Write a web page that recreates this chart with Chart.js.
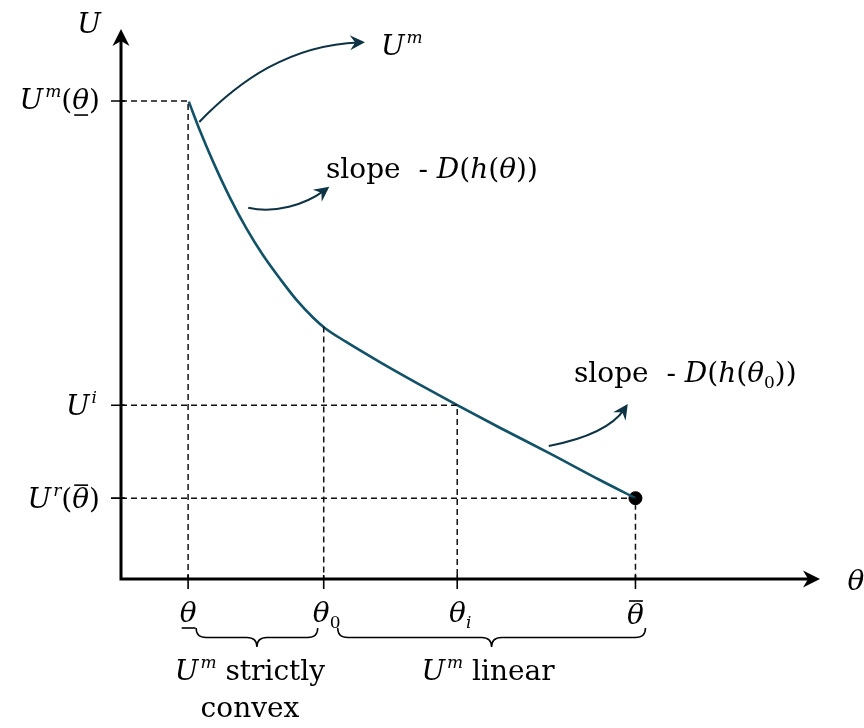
<!DOCTYPE html>
<html>
<head>
<meta charset="utf-8">
<script src="https://cdn.jsdelivr.net/npm/chart.js@4.4.0/dist/chart.umd.min.js"></script>
<style>
  html, body { margin: 0; padding: 0; background: #fff; }
  #wrap { width: 864px; height: 728px; }
</style>
</head>
<body>
<div id="wrap"><canvas id="chart" width="864" height="728"></canvas></div>
<script>
// type values on the horizontal axis
const thetaLow = 9.6;
const theta0 = 29.0;
const thetaI = 48.1;
const thetaHigh = 73.6;

// utility levels on the vertical axis
const uMax = 86.9;   // U^m at the lowest type
const uI = 31.6;
const uR = 14.7;

// U^m curve: strictly convex up to theta0, then almost linear
const curveX = [9.7, 11.3, 13.2, 15.6, 18.0, 20.3, 22.8, 25.2, 27.5, 29.2, 32.1, 37.1, 42.8, 48.1, 54.2, 61.4, 68.5, 73.6];
const curveY = [86.8, 81.5, 75.8, 69.3, 63.6, 58.9, 54.5, 50.6, 47.5, 45.6, 43.2, 39.4, 35.3, 31.6, 27.5, 22.8, 18.0, 14.7];
const kinkY = 45.9;

const CURVE = '#125268';
const ARROW = '#0d3345';
const FONT = '"DejaVu Serif", serif';

const curve = curveX.map((x, i) => ({ x, y: curveY[i] }));
const guide = pts => ({
  data: pts.map(p => ({ x: p[0], y: p[1] })),
  showLine: true,
  borderColor: '#111', borderWidth: 1.5, borderDash: [6, 4],
  pointRadius: 0, fill: false, tension: 0
});

// callout arrows, cubic beziers in data units: start, c1, c2, tip
const callouts = [
  [[11.2, 83.1], [17.0, 90.7], [24.2, 97.1], [34.9, 97.6]],
  [[18.2, 67.5], [22.0, 66.4], [26.3, 68.0], [29.8, 71.3]],
  [[61.2, 24.2], [65.7, 25.3], [70.0, 27.1], [72.5, 31.8]]
];

function head(ctx, tx, ty, ang, len, half, notch) {
  const dx = Math.cos(ang), dy = Math.sin(ang);
  const bx = tx - len * dx, by = ty - len * dy;
  ctx.beginPath();
  ctx.moveTo(tx, ty);
  ctx.lineTo(bx - half * dy, by + half * dx);
  ctx.lineTo(tx - notch * len * dx, ty - notch * len * dy);
  ctx.lineTo(bx + half * dy, by - half * dx);
  ctx.closePath();
  ctx.fill();
}

// draws runs of math-ish text; each run: {t, i: italic, s: 'sup'|'sub', u: underline, o: overline}
function rich(ctx, runs, x, y, align) {
  const fontOf = r => {
    const size = r.s ? 17 : 28;
    return (r.i ? 'italic ' : '') + size + 'px ' + FONT;
  };
  let total = 0;
  const widths = runs.map(r => { ctx.font = fontOf(r); const w = ctx.measureText(r.t).width; total += w; return w; });
  let cx = align === 'right' ? x - total : align === 'center' ? x - total / 2 : x;
  ctx.textAlign = 'left';
  ctx.textBaseline = 'alphabetic';
  runs.forEach((r, k) => {
    ctx.font = fontOf(r);
    const dy = r.s === 'sup' ? -12 : r.s === 'sub' ? 6 : 0;
    const gap = r.s === 'sup' ? 2 : 0;
    ctx.fillText(r.t, cx + gap, y + dy);
    if (r.u || r.o) {
      const ly = r.u ? y + 6 : y - 23;
      ctx.beginPath();
      ctx.moveTo(cx + 2, ly);
      ctx.lineTo(cx + widths[k] - 1, ly);
      ctx.lineWidth = 1.6;
      ctx.stroke();
    }
    cx += widths[k] + gap;
  });
}

function brace(ctx, x1, x2, y, h) {
  const m = (x1 + x2) / 2, q = 10, yy = y + h / 2;
  ctx.beginPath();
  ctx.moveTo(x1, y);
  ctx.quadraticCurveTo(x1, yy, x1 + q, yy);
  ctx.lineTo(m - q, yy);
  ctx.quadraticCurveTo(m, yy, m, y + h);
  ctx.quadraticCurveTo(m, yy, m + q, yy);
  ctx.lineTo(x2 - q, yy);
  ctx.quadraticCurveTo(x2, yy, x2, y);
  ctx.stroke();
}

const diagram = {
  id: 'diagram',
  afterDraw(chart) {
    const ctx = chart.ctx;
    const sx = chart.scales.x, sy = chart.scales.y;
    const px = v => sx.getPixelForValue(v);
    const py = v => sy.getPixelForValue(v);
    const x0 = px(0), y0 = py(0);
    ctx.save();
    ctx.fillStyle = '#000';
    ctx.strokeStyle = '#000';

    // axes with arrow heads
    ctx.lineWidth = 3;
    ctx.beginPath();
    ctx.moveTo(x0, y0 + 1.5);
    ctx.lineTo(x0, py(100) + 10);
    ctx.moveTo(x0 - 1.5, y0);
    ctx.lineTo(px(100) - 10, y0);
    ctx.stroke();
    head(ctx, x0, py(100), -Math.PI / 2, 17, 8.5, 0.7);
    head(ctx, px(100), y0, 0, 17, 8.5, 0.7);

    // tick marks
    ctx.lineWidth = 1.6;
    ctx.beginPath();
    [uMax, uI, uR].forEach(v => { ctx.moveTo(x0 - 10, py(v)); ctx.lineTo(x0 + 4, py(v)); });
    [thetaLow, theta0, thetaI, thetaHigh].forEach(v => { ctx.moveTo(px(v), y0 - 4); ctx.lineTo(px(v), y0 + 10); });
    ctx.stroke();

    // callout arrows
    ctx.strokeStyle = ARROW;
    ctx.fillStyle = ARROW;
    ctx.lineWidth = 2;
    callouts.forEach(c => {
      const p = c.map(q => [px(q[0]), py(q[1])]);
      ctx.beginPath();
      ctx.moveTo(p[0][0], p[0][1]);
      const ang = Math.atan2(p[3][1] - p[2][1], p[3][0] - p[2][0]);
      const ex = p[3][0] - 6 * Math.cos(ang), ey = p[3][1] - 6 * Math.sin(ang);
      ctx.bezierCurveTo(p[1][0], p[1][1], p[2][0], p[2][1], ex, ey);
      ctx.stroke();
      head(ctx, p[3][0], p[3][1], ang, 15, 7.5, 0.65);
    });

    // labels
    ctx.fillStyle = '#000';
    ctx.strokeStyle = '#000';
    rich(ctx, [{ t: 'U', i: true }], x0 - 32, py(100) + 4, 'center');
    rich(ctx, [{ t: 'θ', i: true }], px(100) + 36, y0 + 11, 'center');
    rich(ctx, [{ t: 'U', i: true }, { t: 'm', i: true, s: 'sup' }], px(34.9) + 16, py(97.6) + 13, 'left');

    rich(ctx, [{ t: 'U', i: true }, { t: 'm', i: true, s: 'sup' }, { t: '(' }, { t: 'θ', i: true, u: true }, { t: ')' }], x0 - 23, py(uMax) + 8, 'right');
    rich(ctx, [{ t: 'U', i: true }, { t: 'i', i: true, s: 'sup' }], x0 - 26, py(uI) + 10, 'right');
    rich(ctx, [{ t: 'U', i: true }, { t: 'r', i: true, s: 'sup' }, { t: '(' }, { t: 'θ', i: true, o: true }, { t: ')' }], x0 - 23, py(uR) + 10, 'right');

    const ly = y0 + 43;
    rich(ctx, [{ t: 'θ', i: true, u: true }], px(thetaLow), ly, 'center');
    rich(ctx, [{ t: 'θ', i: true }, { t: '0', s: 'sub' }], px(theta0) + 3, ly, 'center');
    rich(ctx, [{ t: 'θ', i: true }, { t: 'i', i: true, s: 'sub' }], px(thetaI) + 3, ly, 'center');
    rich(ctx, [{ t: 'θ', i: true, o: true }], px(thetaHigh), ly + 2, 'center');

    rich(ctx, [{ t: 'slope  - ' }, { t: 'D', i: true }, { t: '(' }, { t: 'h', i: true }, { t: '(' }, { t: 'θ', i: true }, { t: '))' }], 326, 178, 'left');
    rich(ctx, [{ t: 'slope  - ' }, { t: 'D', i: true }, { t: '(' }, { t: 'h', i: true }, { t: '(' }, { t: 'θ', i: true }, { t: '0', s: 'sub' }, { t: '))' }], 574, 382, 'left');

    // braces under the type axis
    ctx.lineWidth = 1.5;
    brace(ctx, px(thetaLow) + 8, px(theta0) - 6, y0 + 49, 19);
    brace(ctx, px(theta0) + 14, px(thetaHigh) + 10, y0 + 49, 19);
    rich(ctx, [{ t: 'U', i: true }, { t: 'm', i: true, s: 'sup' }, { t: ' strictly' }], 249, y0 + 101, 'center');
    rich(ctx, [{ t: 'convex' }], 250, y0 + 138, 'center');
    rich(ctx, [{ t: 'U', i: true }, { t: 'm', i: true, s: 'sup' }, { t: ' linear' }], 487, y0 + 101, 'center');
    ctx.restore();
  }
};

new Chart(document.getElementById('chart').getContext('2d'), {
  type: 'scatter',
  data: {
    datasets: [
      guide([[0, uMax], [thetaLow, uMax], [thetaLow, 0]]),
      guide([[theta0, kinkY], [theta0, 0]]),
      guide([[0, uI], [thetaI, uI], [thetaI, 0]]),
      guide([[0, uR], [thetaHigh, uR], [thetaHigh, 0]]),
      {
        data: curve, showLine: true, borderColor: CURVE, borderWidth: 2.6,
        pointRadius: 0, cubicInterpolationMode: 'monotone', fill: false
      },
      {
        data: [{ x: thetaHigh, y: uR }], pointRadius: 6.5, pointBackgroundColor: '#000',
        pointBorderColor: '#000', showLine: false
      }
    ]
  },
  options: {
    responsive: false,
    animation: false,
    devicePixelRatio: 1,
    layout: { padding: { left: 121, right: 44, top: 29, bottom: 149 } },
    plugins: { legend: { display: false }, tooltip: { enabled: false } },
    elements: { line: { borderCapStyle: 'butt' } },
    scales: {
      x: { type: 'linear', min: 0, max: 100, display: false },
      y: { type: 'linear', min: 0, max: 100, display: false }
    }
  },
  plugins: [diagram]
});
</script>
</body>
</html>
